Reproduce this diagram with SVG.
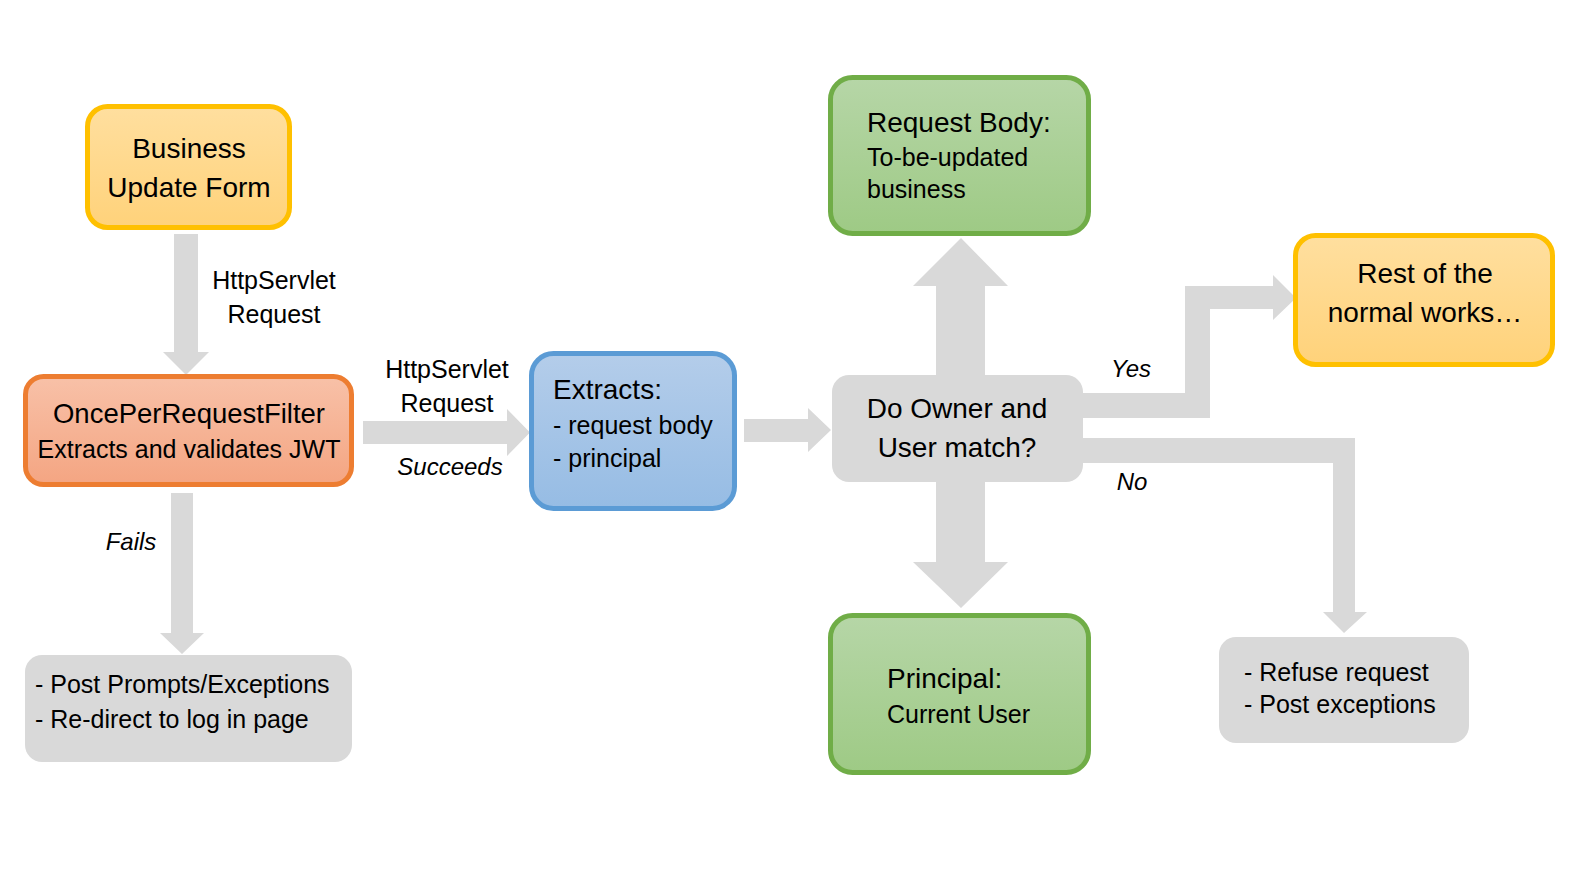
<svg xmlns="http://www.w3.org/2000/svg" width="1584" height="870" viewBox="0 0 1584 870">
<defs>
<linearGradient id="gY" x1="0" y1="0" x2="0" y2="1"><stop offset="0" stop-color="#FFDF9F"/><stop offset="1" stop-color="#FFD27A"/></linearGradient>
<linearGradient id="gO" x1="0" y1="0" x2="0" y2="1"><stop offset="0" stop-color="#F8C1A8"/><stop offset="1" stop-color="#F4A582"/></linearGradient>
<linearGradient id="gB" x1="0" y1="0" x2="0" y2="1"><stop offset="0" stop-color="#B4CDEA"/><stop offset="1" stop-color="#96BCE4"/></linearGradient>
<linearGradient id="gG" x1="0" y1="0" x2="0" y2="1"><stop offset="0" stop-color="#B6D6A7"/><stop offset="1" stop-color="#9ECA85"/></linearGradient>
</defs>
<style>
text{font-family:"Liberation Sans",Arial,sans-serif;fill:#000}
.h{font-size:28px}
.b{font-size:25px}
.i{font-size:24px;font-style:italic}
.c{text-anchor:middle}
.conn{fill:#D9D9D9}
.grey{fill:#D9D9D9}
.box{stroke-width:5}
</style>
<rect width="1584" height="870" fill="#FFFFFF"/>
<g id="connectors">
<polygon class="conn" points="174,234 198,234 198,352 209,352 186,375 163,352 174,352"/>
<polygon class="conn" points="363,421 507,421 507,409 530,432.5 507,456 507,444 363,444"/>
<polygon class="conn" points="744,419 808,419 808,408 831,430 808,452 808,442 744,442"/>
<polygon class="conn" points="936,286 913,286 961,238 1008,286 985,286 985,562 1008,562 961,608 913,562 936,562"/>
<polygon class="conn" points="1080,393 1185,393 1185,286 1273,286 1273,275 1296,298 1273,320 1273,309 1210,309 1210,418 1080,418"/>
<polygon class="conn" points="1080,438 1355,438 1355,612 1367,612 1344,633 1323,612 1333,612 1333,463 1080,463"/>
<polygon class="conn" points="171,493 193,493 193,633 204,633 182,654 160,633 171,633"/>
<text class="b c" x="274" y="289">HttpServlet</text>
<text class="b c" x="274" y="323">Request</text>
<text class="b c" x="447" y="378">HttpServlet</text>
<text class="b c" x="447" y="412">Request</text>
<text class="i c" x="450" y="475">Succeeds</text>
<text class="i c" x="131" y="550">Fails</text>
<text class="i c" x="1131" y="377">Yes</text>
<text class="i c" x="1132" y="490">No</text>
</g>
<g id="business">
<rect class="box" x="87.5" y="106.5" width="202" height="121" rx="20" fill="url(#gY)" stroke="#FFC000"/>
<text class="h c" x="189" y="158">Business</text>
<text class="h c" x="189" y="197">Update Form</text>
</g>
<g id="filter">
<rect class="box" x="25.5" y="376.5" width="326" height="108" rx="18" fill="url(#gO)" stroke="#ED7D31"/>
<text class="c" x="189" y="423" style="font-size:27.5px">OncePerRequestFilter</text>
<text class="b c" x="189" y="458">Extracts and validates JWT</text>
</g>
<g id="extracts">
<rect class="box" x="531.5" y="353.5" width="203" height="155" rx="22" fill="url(#gB)" stroke="#5B9BD5"/>
<text class="h" x="553" y="399">Extracts:</text>
<text class="b" x="553" y="434">- request body</text>
<text class="b" x="553" y="467">- principal</text>
</g>
<g id="decision">
<rect class="grey" x="832" y="375" width="251" height="107" rx="17"/>
<text class="h c" x="957" y="418">Do Owner and</text>
<text class="h c" x="957" y="457">User match?</text>
</g>
<g id="requestBody">
<rect class="box" x="830.5" y="77.5" width="258" height="156" rx="22" fill="url(#gG)" stroke="#70AD47"/>
<text class="h" x="867" y="132">Request Body:</text>
<text class="b" x="867" y="166">To-be-updated</text>
<text class="b" x="867" y="198">business</text>
</g>
<g id="principal">
<rect class="box" x="830.5" y="615.5" width="258" height="157" rx="22" fill="url(#gG)" stroke="#70AD47"/>
<text class="h" x="887" y="688">Principal:</text>
<text class="b" x="887" y="723">Current User</text>
</g>
<g id="rest">
<rect class="box" x="1295.5" y="235.5" width="257" height="129" rx="20" fill="url(#gY)" stroke="#FFC000"/>
<text class="h c" x="1425" y="283">Rest of the</text>
<text class="h c" x="1425" y="322">normal works…</text>
</g>
<g id="fail">
<rect class="grey" x="25" y="655" width="327" height="107" rx="17"/>
<text class="b" x="35" y="693">- Post Prompts/Exceptions</text>
<text class="b" x="35" y="728">- Re-direct to log in page</text>
</g>
<g id="refuse">
<rect class="grey" x="1219" y="637" width="250" height="106" rx="17"/>
<text class="b" x="1244" y="681">- Refuse request</text>
<text class="b" x="1244" y="713">- Post exceptions</text>
</g>
</svg>
